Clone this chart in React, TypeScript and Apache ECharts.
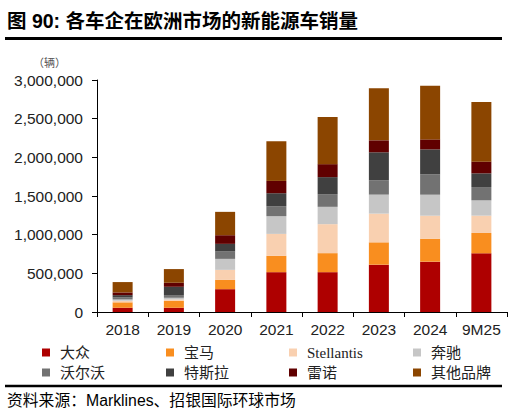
import React, { useEffect, useRef } from "react";
import * as echarts from "echarts";

const categories = ["2018", "2019", "2020", "2021", "2022", "2023", "2024", "9M25"];
const seriesNames = ["大众", "宝马", "Stellantis", "奔驰", "沃尔沃", "特斯拉", "雷诺", "其他品牌"];
const vw = [55000, 55000, 295000, 515000, 515000, 612000, 651000, 759000];
const bmw = [70000, 90000, 120000, 211000, 246000, 289000, 297000, 263000];
const stellantis = [20000, 17000, 130000, 284000, 375000, 371000, 297000, 224000];
const benz = [17000, 22000, 142000, 229000, 224000, 246000, 272000, 198000];
const volvo = [26000, 35000, 95000, 129000, 164000, 185000, 263000, 172000];
const tesla = [30000, 107000, 99000, 168000, 220000, 362000, 323000, 177000];
const renault = [35000, 52000, 112000, 159000, 168000, 155000, 129000, 151000];
const others = [134000, 177000, 302000, 513000, 608000, 672000, 694000, 772000];
const seriesData = [vw, bmw, stellantis, benz, volvo, tesla, renault, others];
const colors = ["#AE0000", "#F98E1F", "#F9D0B0", "#C6C6C6", "#727272", "#404040", "#600000", "#8B4500"];

const SANS = "Liberation Sans, Arial, Noto Sans CJK SC, sans-serif";
const LEG = "Liberation Serif, Noto Sans CJK SC, serif";

export default function App() {
  const ref = useRef<HTMLDivElement>(null);
  useEffect(() => {
    if (!ref.current) return;
    const chart = echarts.init(ref.current, undefined, { renderer: "svg" });
    const legendX = [42, 166, 289, 413];
    const legendY = [345, 365];
    chart.setOption({
      animation: false,
      backgroundColor: "#ffffff",
      color: colors,
      grid: { left: 97, right: 7, top: 80, bottom: 105, containLabel: false },
      legend: seriesNames.map((n, i) => ({
        data: [n],
        left: legendX[i % 4],
        top: legendY[Math.floor(i / 4)],
        icon: "rect",
        itemWidth: 8,
        itemHeight: 8,
        padding: 0,
        selectedMode: false,
        textStyle: { fontFamily: LEG, fontSize: 15, color: "#222", padding: [0, 0, 0, 5] },
      })),
      xAxis: {
        type: "category",
        data: categories,
        axisLine: { lineStyle: { color: "#000", width: 1 } },
        axisTick: { show: true, length: 5, lineStyle: { color: "#000" } },
        axisLabel: { fontFamily: SANS, fontSize: 15.5, color: "#222", margin: 10 },
      },
      yAxis: {
        type: "value",
        min: 0,
        max: 3000000,
        interval: 500000,
        axisLine: { show: true, lineStyle: { color: "#000", width: 1 } },
        axisTick: { show: true, length: 5, lineStyle: { color: "#000" } },
        splitLine: { show: false },
        axisLabel: {
          fontFamily: SANS,
          fontSize: 15.5,
          color: "#222",
          margin: 14,
          formatter: (v: number) => v.toLocaleString("en-US"),
        },
      },
      series: seriesNames.map((n, i) => ({
        name: n,
        type: "bar",
        stack: "total",
        barWidth: 20,
        data: seriesData[i],
        itemStyle: { color: colors[i] },
      })),
      graphic: [
        {
          type: "text",
          left: 7,
          top: 11,
          style: {
            text: "图 90: 各车企在欧洲市场的新能源车销量",
            font: `bold 19.5px ${SANS}`,
            fill: "#000",
          },
        },
        {
          type: "line",
          shape: { x1: 5, y1: 38.5, x2: 502, y2: 38.5 },
          style: { stroke: "#000", lineWidth: 3 },
        },
        {
          type: "text",
          left: 33,
          top: 57,
          style: { text: "（辆）", font: `11px ${SANS}`, fill: "#555" },
        },
        {
          type: "line",
          shape: { x1: 5, y1: 386, x2: 502, y2: 386 },
          style: { stroke: "#000", lineWidth: 2.5 },
        },
        {
          type: "text",
          left: 7,
          top: 393,
          style: { text: "资料来源：Marklines、招银国际环球市场", font: `15.8px ${SANS}`, fill: "#000" },
        },
      ],
    });
    return () => chart.dispose();
  }, []);
  return (
    <div
      ref={ref}
      style={{ position: "fixed", left: 0, top: 0, width: 514, height: 417, background: "#fff" }}
    />
  );
}
